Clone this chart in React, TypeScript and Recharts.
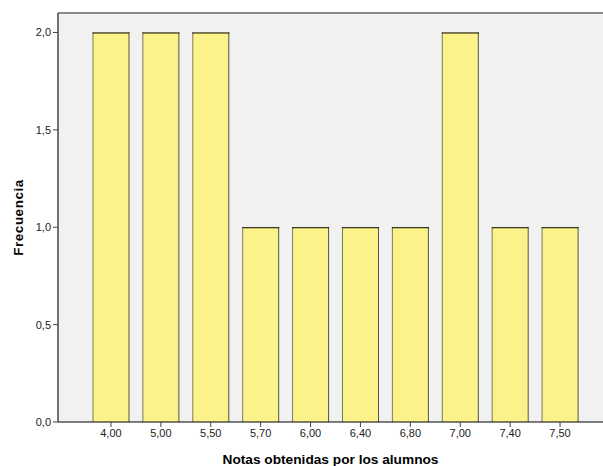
import React from 'react';
import { BarChart, Bar, XAxis, YAxis, CartesianGrid, ReferenceLine } from 'recharts';

// Notas obtenidas por los alumnos -> frecuencia
const NOTAS = ['4,00', '5,00', '5,50', '5,70', '6,00', '6,40', '6,80', '7,00', '7,40', '7,50'];
const FRECUENCIAS = [2, 2, 2, 1, 1, 1, 1, 2, 1, 1];
const Y_TICKS = [0, 0.5, 1, 1.5, 2];

const data = NOTAS.map((nota, i) => ({ nota, frecuencia: FRECUENCIAS[i] }));

const fmt = (v: number) => v.toFixed(1).replace('.', ',');

const BarShape = (props: any) => {
  const { x, y, width, height } = props;
  if (!height) return null;
  return (
    <g>
      <rect x={x} y={y} width={width} height={height} fill="#fbf38a" />
      <line x1={x + 0.5} y1={y} x2={x + 0.5} y2={y + height} stroke="#7a7a6a" />
      <line x1={x + width - 0.5} y1={y} x2={x + width - 0.5} y2={y + height} stroke="#55554a" />
      <line x1={x} y1={y + 0.5} x2={x + width} y2={y + 0.5} stroke="#000" />
    </g>
  );
};

export default function App() {
  return (
    <div style={{ position: 'absolute', left: 0, top: 0, width: 603, height: 466, background: '#fff' }}>
      <BarChart
        width={603}
        height={466}
        data={data}
        margin={{ top: 13, right: 0, left: 0, bottom: 0 }}
        barCategoryGap="13%"
      >
        <CartesianGrid horizontal={false} vertical={false} fill="#f1f1f1" />
        <XAxis
          dataKey="nota"
          height={44}
          padding={{ left: 28, right: 18 }}
          axisLine={{ stroke: '#000', strokeWidth: 1 }}
          tickLine={{ stroke: '#444' }}
          tickSize={5}
          tick={{ fill: '#222', fontSize: 11, fontFamily: 'Liberation Sans, Arial, sans-serif' }}
          interval={0}
          label={{
            value: 'Notas obtenidas por los alumnos',
            position: 'insideBottom',
            offset: 2,
            style: { fill: '#000', fontSize: 13.7, fontWeight: 'bold', fontFamily: 'Liberation Sans, Arial, sans-serif' },
          }}
        />
        <YAxis
          width={58}
          domain={[0, 2.1]}
          ticks={Y_TICKS}
          tickFormatter={fmt}
          axisLine={{ stroke: '#444', strokeWidth: 1.5 }}
          tickLine={{ stroke: '#444' }}
          tickSize={5}
          tick={{ fill: '#222', fontSize: 11, fontFamily: 'Liberation Sans, Arial, sans-serif' }}
          label={{
            value: 'Frecuencia',
            angle: -90,
            position: 'insideLeft',
            offset: 18,
            style: { textAnchor: 'middle', fill: '#000', fontSize: 13.5, fontWeight: 'bold', letterSpacing: 0.5, fontFamily: 'Liberation Sans, Arial, sans-serif' },
          }}
        />
        <ReferenceLine y={2.1} stroke="#8a8a8a" strokeWidth={2} />
        <Bar dataKey="frecuencia" shape={<BarShape />} isAnimationActive={false} />
      </BarChart>
    </div>
  );
}
